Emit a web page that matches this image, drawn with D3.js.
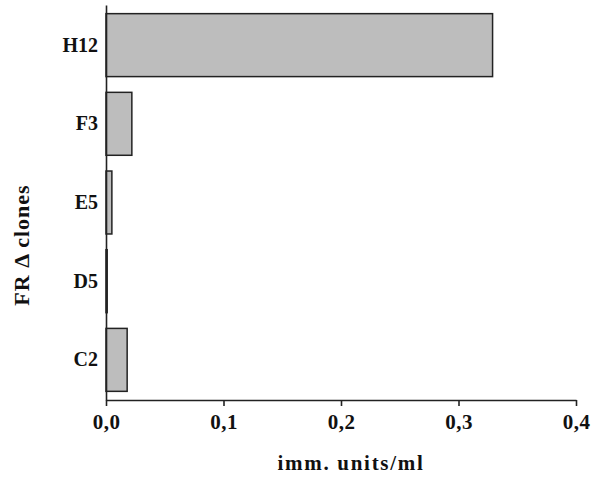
<!DOCTYPE html>
<html>
<head>
<meta charset="utf-8">
<script src="https://cdn.jsdelivr.net/npm/d3@7"></script>
<style>
  body { margin: 0; background: #fff; }
  text { font-family: "Liberation Serif", "Times New Roman", serif; font-weight: bold; fill: #111; }
</style>
</head>
<body>
<div id="chart"></div>
<script>
// clones and their values (imm. units/ml)
var clones = ["H12", "F3", "E5", "D5", "C2"];
var values = [0.329, 0.022, 0.005, 0.001, 0.018];
var xTicks = [0, 0.1, 0.2, 0.3, 0.4];

var svgWidth = 600;
var svgHeight = 479;

var margin = { top: 5, right: 24, bottom: 79, left: 106 };
var width = svgWidth - margin.left - margin.right;
var height = svgHeight - margin.top - margin.bottom;

var svg = d3.select("#chart")
  .append("svg")
  .attr("width", svgWidth)
  .attr("height", svgHeight);

var chartGroup = svg.append("g")
  .attr("transform", `translate(${margin.left}, ${margin.top})`);

var data = clones.map((c, i) => ({ clone: c, value: values[i] }));

var xScale = d3.scaleLinear().domain([0, 0.4]).range([0, width]);
var yScale = d3.scaleBand().domain(clones).range([0, height])
  .paddingInner(0.2).paddingOuter(0.11);

// bars
chartGroup.selectAll("rect")
  .data(data)
  .enter()
  .append("rect")
  .attr("x", xScale(0))
  .attr("y", d => yScale(d.clone))
  .attr("width", d => xScale(d.value))
  .attr("height", yScale.bandwidth())
  .attr("fill", "#bdbdbd")
  .attr("stroke", "#222")
  .attr("stroke-width", 1.5);

// x axis
var bottomAxis = d3.axisBottom(xScale)
  .tickValues(xTicks)
  .tickSize(6)
  .tickSizeOuter(0)
  .tickPadding(8)
  .tickFormat(d => d3.format(".1f")(d).replace(".", ","));

var xAxis = chartGroup.append("g")
  .attr("transform", `translate(0, ${height})`)
  .call(bottomAxis);
xAxis.selectAll("text").style("font-size", "21px").style("letter-spacing", "0.5px").attr("fill", "#111");

// y axis, labels only
var leftAxis = d3.axisLeft(yScale).tickSize(0).tickPadding(8);
var yAxis = chartGroup.append("g").call(leftAxis);
yAxis.selectAll("text").style("font-size", "20px").attr("fill", "#111");

chartGroup.selectAll(".domain, .tick line")
  .attr("stroke", "#222")
  .attr("stroke-width", 1.6);

// axis titles
chartGroup.append("text")
  .attr("transform", "rotate(-90)")
  .attr("x", -240)
  .attr("y", 29 - margin.left)
  .attr("text-anchor", "middle")
  .style("font-size", "22px")
  .style("letter-spacing", "1px")
  .text("FR \u0394 clones");

chartGroup.append("text")
  .attr("x", 351 - margin.left)
  .attr("y", 470 - margin.top)
  .attr("text-anchor", "middle")
  .style("font-size", "21px")
  .style("letter-spacing", "1.7px")
  .text("imm. units/ml");
</script>
</body>
</html>
